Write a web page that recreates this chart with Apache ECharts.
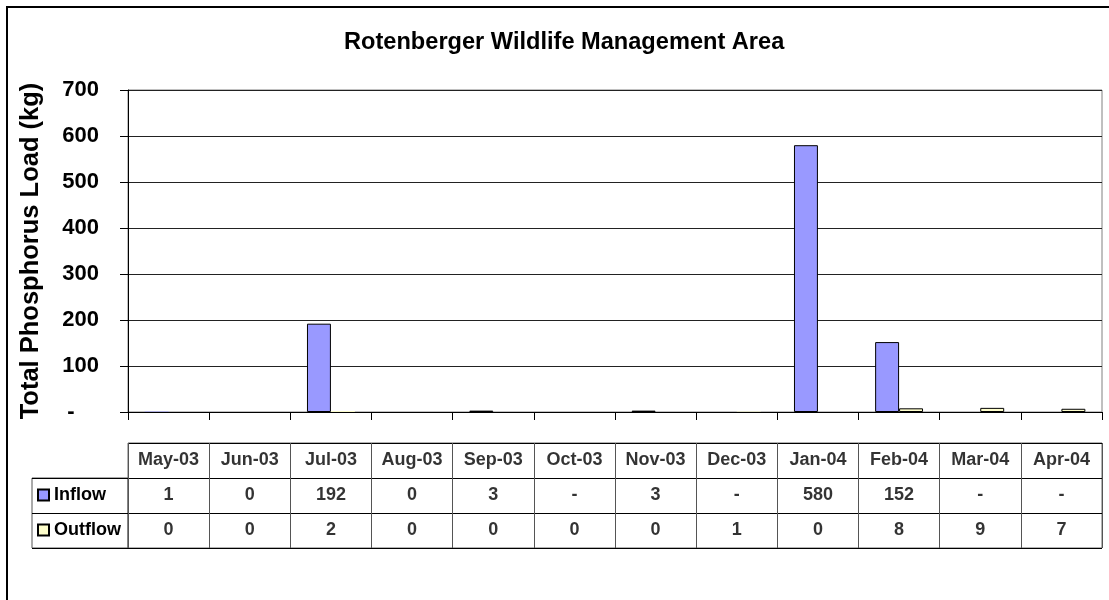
<!DOCTYPE html>
<html>
<head>
<meta charset="utf-8">
<script src="https://cdn.jsdelivr.net/npm/echarts@6/dist/echarts.min.js"></script>
<style>
  html, body { margin: 0; padding: 0; background: #fff; }
  #wrap { position: relative; width: 1109px; height: 600px; overflow: hidden; }
  #chart { position: absolute; left: 0; top: 0; width: 1109px; height: 600px; }
  #frame { position: absolute; left: 6px; top: 6px; width: 1200px; height: 700px;
           border-left: 2px solid #000; border-top: 2px solid #000; pointer-events: none; }
</style>
</head>
<body>
<div id="wrap">
  <div id="chart"></div>
  <div id="frame"></div>
</div>
<script>
// Monthly total phosphorus load (kg)
const months = ['May-03', 'Jun-03', 'Jul-03', 'Aug-03', 'Sep-03', 'Oct-03',
                'Nov-03', 'Dec-03', 'Jan-04', 'Feb-04', 'Mar-04', 'Apr-04'];
const inflow  = [1, 0, 192, 0, 3, null, 3, null, 580, 152, null, null];
const outflow = [0, 0, 2, 0, 0, 0, 0, 1, 0, 8, 9, 7];
const seriesNames = ['Inflow', 'Outflow'];
const yMin = 0, yMax = 700, yStep = 100;

const FONT = 'Liberation Sans, Arial, Helvetica, sans-serif';
const INFLOW_COLOR = '#9999FF';
const OUTFLOW_COLOR = '#FFFFCC';
const PLOT_HEIGHT = 322;

// Data table cells: header row of months, then one row per series
const tableRows = ['header'].concat(seriesNames);
const fmt = v => (v === null || v === undefined) ? '-' : String(Math.round(v));
const tableCells = [];
months.forEach((m, i) => {
  tableCells.push([i, 0, m]);
  tableCells.push([i, 1, fmt(inflow[i])]);
  tableCells.push([i, 2, fmt(outflow[i])]);
});

// Bars thinner than about a pixel are left without an outline so they
// sit flush on the axis line.
const barItems = (values) => values.map(v => {
  if (v === null) return null;
  const px = v * PLOT_HEIGHT / (yMax - yMin);
  return px < 1.2 ? { value: v, itemStyle: { borderWidth: 0 } } : v;
});

const chart = echarts.init(document.getElementById('chart'), null, { renderer: 'canvas' });

chart.setOption({
  backgroundColor: '#fff',
  animation: false,
  textStyle: { fontFamily: FONT },
  title: {
    text: 'Rotenberger Wildlife Management Area',
    left: 339, top: 25,
    textStyle: { fontFamily: FONT, fontSize: 23.6, fontWeight: 'bold', color: '#000' }
  },
  legend: {
    data: seriesNames,
    orient: 'vertical',
    left: 37, top: 485,
    padding: 0,
    itemWidth: 11, itemHeight: 11, itemGap: 15,
    icon: 'rect',
    selectedMode: false,
    textStyle: { fontFamily: FONT, fontSize: 18, fontWeight: 'bold', color: '#000', lineHeight: 20 }
  },
  grid: [
    { left: 128, right: 7, top: 90, height: PLOT_HEIGHT, show: true, borderColor: '#808080', borderWidth: 1 },
    { left: 128, right: 7, top: 443, height: 105, show: true, borderColor: '#666', borderWidth: 1 },
    { left: 32, width: 96, top: 478, height: 70, show: true, borderColor: '#555', borderWidth: 1 }
  ],
  xAxis: [
    {
      type: 'category', gridIndex: 0, data: months,
      axisLine: { lineStyle: { color: '#000', width: 1 } },
      axisTick: { show: true, interval: 0, length: 8, lineStyle: { color: '#000' } },
      axisLabel: { show: false },
      splitLine: { show: false }
    },
    {
      type: 'category', gridIndex: 1, data: months,
      axisLine: { show: false }, axisTick: { show: false }, axisLabel: { show: false },
      splitLine: { show: true, interval: 0, lineStyle: { color: '#555', width: 1 } }
    },
    {
      type: 'category', gridIndex: 2, data: ['legend'],
      axisLine: { show: false }, axisTick: { show: false }, axisLabel: { show: false },
      splitLine: { show: false }
    }
  ],
  yAxis: [
    {
      type: 'value', gridIndex: 0, min: yMin, max: yMax, interval: yStep,
      axisLine: { show: true, lineStyle: { color: '#000', width: 1 } },
      axisTick: { show: true, length: 8, lineStyle: { color: '#000' } },
      axisLabel: {
        margin: 29, fontSize: 22, fontWeight: 'bold', color: '#000', fontFamily: FONT,
        formatter: v => (v === 0 ? '-    ' : String(v))
      },
      splitLine: { show: true, lineStyle: { color: '#222', width: 1 } },
      name: 'Total Phosphorus Load (kg)',
      nameLocation: 'middle', nameGap: 84,
      nameTextStyle: { fontFamily: FONT, fontSize: 25.5, fontWeight: 'bold', color: '#000' }
    },
    {
      type: 'category', gridIndex: 1, data: tableRows, inverse: true,
      axisLine: { show: false }, axisTick: { show: false }, axisLabel: { show: false },
      splitLine: { show: true, interval: 0, lineStyle: { color: '#000', width: 1 } }
    },
    {
      type: 'category', gridIndex: 2, data: seriesNames, inverse: true,
      axisLine: { show: false }, axisTick: { show: false }, axisLabel: { show: false },
      splitLine: { show: true, interval: 0, lineStyle: { color: '#000', width: 1 } }
    }
  ],
  series: [
    {
      name: 'Inflow', type: 'bar', xAxisIndex: 0, yAxisIndex: 0,
      data: barItems(inflow), barGap: '0%', barCategoryGap: '41%',
      itemStyle: { color: INFLOW_COLOR, borderColor: '#000', borderWidth: 1 }
    },
    {
      name: 'Outflow', type: 'bar', xAxisIndex: 0, yAxisIndex: 0,
      data: barItems(outflow), barGap: '0%', barCategoryGap: '41%',
      itemStyle: { color: OUTFLOW_COLOR, borderColor: '#000', borderWidth: 1 }
    },
    {
      name: 'table', type: 'scatter', xAxisIndex: 1, yAxisIndex: 1,
      data: tableCells, symbol: 'rect', symbolSize: 1, silent: true,
      itemStyle: { color: 'rgba(0,0,0,0)' },
      label: {
        show: true, position: 'inside',
        formatter: p => p.value[2],
        fontFamily: FONT, fontSize: 18, fontWeight: 'bold', color: '#000'
      }
    }
  ]
});
</script>
</body>
</html>
